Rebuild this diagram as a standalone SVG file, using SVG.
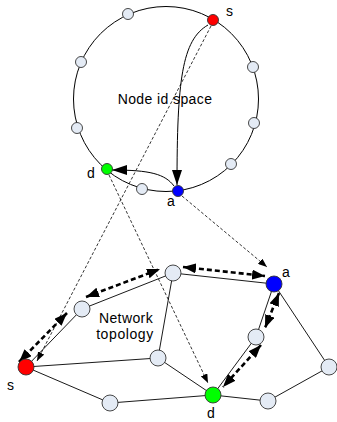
<svg xmlns="http://www.w3.org/2000/svg" width="337" height="422" viewBox="0 0 337 422">
<style>
.ring{fill:none;stroke:#000;stroke-width:1}
.edge{stroke:#000;stroke-width:0.9;fill:none}
.thick{stroke:#000;stroke-width:2.6;stroke-dasharray:5 3;fill:none}
.thin{stroke:#000;stroke-width:0.8;stroke-dasharray:3 2;fill:none}
.arc{stroke:#000;stroke-width:1;fill:none}
.lt{fill:#E4EBF5;stroke:#333;stroke-width:0.9}
.red{fill:#FF0000;stroke:#333;stroke-width:0.9}
.blue{fill:#0000FF;stroke:#333;stroke-width:0.9}
.green{fill:#00FF00;stroke:#333;stroke-width:0.9}
text{font-family:"Liberation Sans",Arial,sans-serif;font-size:14px;fill:#000}
</style>
<defs>
<marker id="big" markerUnits="userSpaceOnUse" markerWidth="13" markerHeight="10" refX="13" refY="5" orient="auto-start-reverse"><path d="M0,0 L13,5 L0,10 z" fill="#000"/></marker>
<marker id="small" markerUnits="userSpaceOnUse" markerWidth="9" markerHeight="7" refX="9" refY="3.5" orient="auto"><path d="M0,0 L9,3.5 L0,7 z" fill="#000"/></marker>
<marker id="ringarrow" markerUnits="userSpaceOnUse" markerWidth="15" markerHeight="10" refX="15" refY="5" orient="auto"><path d="M0,0 L15,5 L0,10 z" fill="#000"/></marker>
</defs>
<circle class="ring" cx="166" cy="99" r="92.5"/>
<g id="edges">
<line class="edge" x1="26" y1="367" x2="82" y2="309"/>
<line class="edge" x1="82" y1="309" x2="173" y2="273"/>
<line class="edge" x1="173" y1="273" x2="274" y2="284"/>
<line class="edge" x1="173" y1="273" x2="158" y2="358"/>
<line class="edge" x1="26" y1="367" x2="158" y2="358"/>
<line class="edge" x1="158" y1="358" x2="213" y2="395"/>
<line class="edge" x1="26" y1="367" x2="110" y2="403"/>
<line class="edge" x1="110" y1="403" x2="213" y2="395"/>
<line class="edge" x1="213" y1="395" x2="268" y2="401"/>
<line class="edge" x1="268" y1="401" x2="329" y2="367"/>
<line class="edge" x1="329" y1="367" x2="274" y2="284"/>
<line class="edge" x1="274" y1="284" x2="256" y2="337"/>
<line class="edge" x1="256" y1="337" x2="213" y2="395"/>
</g>
<g id="connectors">
<path class="arc" d="M208,25 C182,40 177,80 177,185" marker-end="url(#ringarrow)"/>
<path class="arc" d="M174,186 C165,174 150,170 112,170" marker-end="url(#ringarrow)"/>
<line class="thin" x1="211" y1="26" x2="37" y2="361" marker-end="url(#small)"/>
<line class="thin" x1="109" y1="175" x2="208" y2="383" marker-end="url(#small)"/>
<line class="thin" x1="182" y1="196" x2="267" y2="267" marker-end="url(#small)"/>
<line class="thick" x1="19" y1="362" x2="67" y2="313" marker-start="url(#big)" marker-end="url(#big)"/>
<line class="thick" x1="86" y1="297" x2="160" y2="269" marker-start="url(#big)" marker-end="url(#big)"/>
<line class="thick" x1="183" y1="267" x2="265" y2="276" marker-start="url(#big)" marker-end="url(#big)"/>
<line class="thick" x1="279" y1="293" x2="265" y2="328" marker-start="url(#big)" marker-end="url(#big)"/>
<line class="thick" x1="261" y1="345" x2="223" y2="387" marker-start="url(#big)" marker-end="url(#big)"/>
</g>
<g id="ring-nodes">
<circle id="r-s" class="red" cx="213" cy="20" r="5.5"/>
<circle id="r1" class="lt" cx="128" cy="14" r="5.5"/>
<circle id="r2" class="lt" cx="81" cy="62" r="5.5"/>
<circle id="r3" class="lt" cx="253" cy="67" r="5.5"/>
<circle id="r4" class="lt" cx="77" cy="128" r="5.5"/>
<circle id="r5" class="lt" cx="254" cy="123" r="5.5"/>
<circle id="r6" class="lt" cx="231" cy="164" r="5.5"/>
<circle id="r-d" class="green" cx="107" cy="169" r="5.5"/>
<circle id="r7" class="lt" cx="142" cy="189" r="5.5"/>
<circle id="r-a" class="blue" cx="178" cy="191" r="5.5"/>
</g>
<g id="net-nodes">
<circle id="n-s" class="red" cx="26" cy="367" r="8"/>
<circle id="n2" class="lt" cx="82" cy="309" r="8"/>
<circle id="n1" class="lt" cx="173" cy="273" r="8"/>
<circle id="n-a" class="blue" cx="274" cy="284" r="8"/>
<circle id="n3" class="lt" cx="158" cy="358" r="8"/>
<circle id="n4" class="lt" cx="256" cy="337" r="8"/>
<circle id="n5" class="lt" cx="329" cy="367" r="8"/>
<circle id="n-d" class="green" cx="213" cy="395" r="8"/>
<circle id="n6" class="lt" cx="110" cy="403" r="8"/>
<circle id="n7" class="lt" cx="268" cy="401" r="8"/>
</g>
<g id="labels">
<text x="165" y="104" text-anchor="middle" letter-spacing="0.4">Node id space</text>
<text x="226" y="16">s</text>
<text x="87" y="178">d</text>
<text x="167" y="206">a</text>
<text x="126" y="323" text-anchor="middle" letter-spacing="0.4">Network</text>
<text x="125" y="339" text-anchor="middle" letter-spacing="0.6">topology</text>
<text x="282" y="277">a</text>
<text x="7" y="390">s</text>
<text x="207" y="418">d</text>
</g>
</svg>
